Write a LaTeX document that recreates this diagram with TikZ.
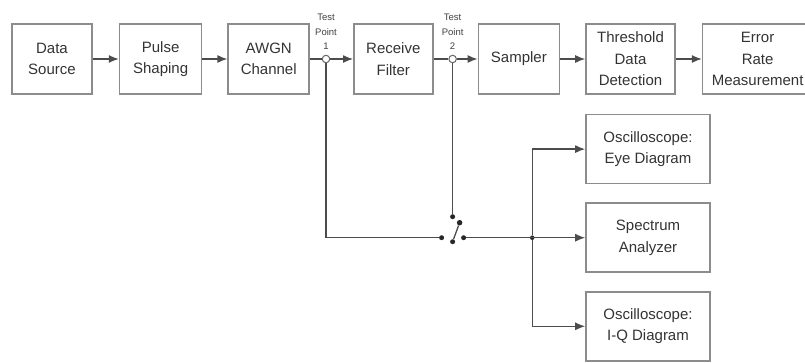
\documentclass[tikz,border=0pt]{standalone}
\usepackage{fontspec}
\setmainfont{Liberation Sans}
\usetikzlibrary{arrows.meta, positioning, calc}

\begin{document}
\begin{tikzpicture}[
    x=1pt, y=1pt,
    node distance=25pt,
    block/.style={rectangle, draw=black!45, line width=1.6pt, minimum width=80pt, minimum height=70pt, text centered, align=center, text=black!80, font=\fontsize{15}{21.5}\selectfont, inner sep=1pt},
    arrow/.style={line width=1.3pt, draw=black!70, -{Latex[length=10pt,width=8pt]}},
    line/.style={line width=1.3pt, draw=black!70},
    probe/.style={circle, draw=black!60, fill=white, line width=1pt, inner sep=0pt, minimum size=7.5pt},
    plabel/.style={align=center, font=\fontsize{9.5}{14.5}\selectfont, text=black!75, inner sep=0pt},
    dot/.style={circle, fill=black!85, inner sep=0pt, minimum size=5pt}
]
\useasboundingbox (0,0) rectangle (805,-362);

% Nodes
\node (src) [block] at (52,-59) {Data\\Source};
\node (shape) [block, minimum width=82pt, right=26pt of src] {Pulse\\Shaping};
\node (awgn) [block, minimum width=81pt, right=of shape] {AWGN\\Channel};
\node (rxf) [block, minimum width=79pt, right=43pt of awgn] {Receive\\Filter};
\node (smp) [block, minimum width=81pt, right=44pt of rxf] {Sampler};
\node (thr) [block, minimum width=89pt, right=of smp] {Threshold\\Data\\Detection};
\node (err) [block, minimum width=110pt, right=26pt of thr] {Error\\Rate\\Measurement};

% Instruments
\node (eye) [block, minimum width=124pt, minimum height=69pt, below right=19pt and 0pt of thr.south west] {Oscilloscope:\\Eye Diagram};
\node (spec) [block, minimum width=124pt, minimum height=69pt, below=18pt of eye] {Spectrum\\Analyzer};
\node (iq) [block, minimum width=124pt, minimum height=69pt, below=18pt of spec] {Oscilloscope:\\I-Q Diagram};

% Test points
\node (tp1) [probe] at ($(awgn.east)+(16,0)$) {};
\node (tp2) [probe] at ($(rxf.east)+(19,0)$) {};
\node (tp1lbl) [plabel, above=5pt of tp1] {Test\\Point\\1};
\node (tp2lbl) [plabel, above=5pt of tp2] {Test\\Point\\2};

% Switch
\coordinate (sw) at (tp2 |- spec);
\node (swt) [dot] at ($(sw)+(0,21)$) {};
\node (swl) [dot] at ($(sw)+(-11,0)$) {};
\node (swr) [dot] at ($(sw)+(11,0)$) {};
\node (swp) [dot] at ($(sw)+(0,-4)$) {};
\node (swk) [dot, minimum size=5.5pt] at ($(sw)+(7,15)$) {};
\node (junc) [dot, minimum size=4.5pt] at ($(spec.west)+(-53,0)$) {};

% Arrows
\draw [arrow] (src) -- (shape);
\draw [arrow] (shape) -- (awgn);
\draw [line] (awgn) -- (tp1);
\draw [arrow] (tp1) -- (rxf);
\draw [line] (rxf) -- (tp2);
\draw [arrow] (tp2) -- (smp);
\draw [arrow] (smp) -- (thr);
\draw [arrow] (thr) -- (err);
\draw [line] (tp1) |- (swl);
\draw [line] (tp2) -- (swt);
\draw [line] (swp) -- (swk);
\draw [arrow] (swr) -- (spec);
\draw [arrow] (junc) |- (eye);
\draw [arrow] (junc) |- (iq);

\end{tikzpicture}
\end{document}
